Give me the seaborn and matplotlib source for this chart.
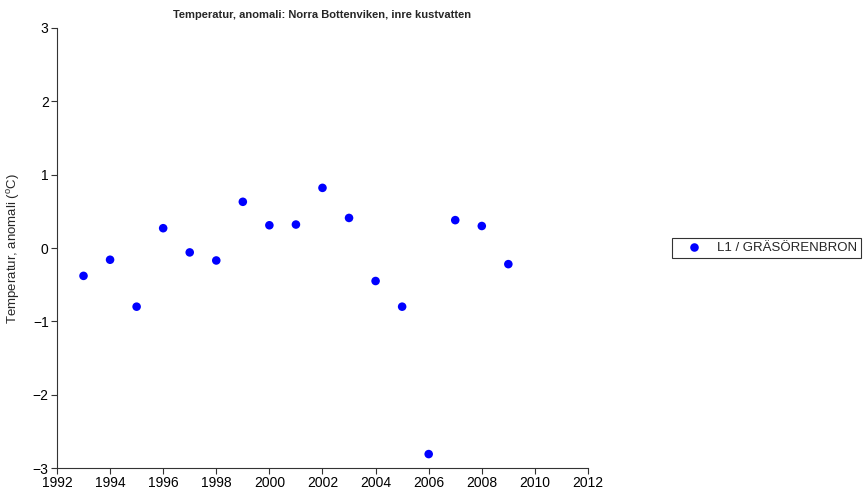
import pandas as pd
import numpy as np
import matplotlib
matplotlib.use('Agg')
import matplotlib.pyplot as plt
import seaborn as sns

# data
years = [1993, 1994, 1995, 1996, 1997, 1998, 1999, 2000, 2001,
         2002, 2003, 2004, 2005, 2006, 2007, 2008, 2009]
anomaly = [-0.38, -0.16, -0.80, 0.27, -0.06, -0.17, 0.63, 0.31, 0.32,
           0.82, 0.41, -0.45, -0.80, -2.81, 0.38, 0.30, -0.22]
station = 'L1 / GRÄSÖRENBRON'
x_ticks = list(range(1992, 2013, 2))
y_ticks = [-3, -2, -1, 0, 1, 2, 3]

df = pd.DataFrame({'year': years, 'anomaly': anomaly, 'station': station})

sns.set_style('ticks')
plt.rcParams['font.family'] = ['Liberation Sans', 'DejaVu Sans']
plt.rcParams['mathtext.fontset'] = 'custom'
plt.rcParams['mathtext.rm'] = 'Liberation Sans'
plt.rcParams['axes.edgecolor'] = '#333333'

fig = plt.figure(figsize=(8.67, 4.98), dpi=100)
ax = fig.add_axes([0.0657, 0.0602, 0.6125, 0.8836])

sns.scatterplot(data=df, x='year', y='anomaly', hue='station', palette=['#0000ff'],
                s=38, edgecolor='none', ax=ax, legend=True)

ax.set_xlim(1992, 2012)
ax.set_ylim(-3, 3)
ax.set_xticks(x_ticks)
ax.set_yticks(y_ticks)
ax.tick_params(axis='both', labelsize=10, length=4, width=0.8, color='#333333',
               labelcolor='black', pad=2)
ax.set_xlabel('')
ax.set_ylabel(r'Temperatur, anomali ($^{\rm o}$C)', fontsize=9.5, labelpad=8)
ax.set_title('Temperatur, anomali: Norra Bottenviken, inre kustvatten',
             fontsize=8, fontweight='bold', pad=7)
sns.despine(ax=ax)

handles, labels = ax.get_legend_handles_labels()
ax.legend_.remove()
leg = fig.legend(handles, labels, loc='upper left',
                 bbox_to_anchor=(672 / 867, 1 - 238 / 498),
                 fontsize=9.5, frameon=True, fancybox=False,
                 edgecolor='black', borderpad=0.3, handlelength=2.8,
                 handletextpad=0.3, borderaxespad=0)
leg.get_frame().set_linewidth(0.8)

fig.savefig('out.png', dpi=100)
